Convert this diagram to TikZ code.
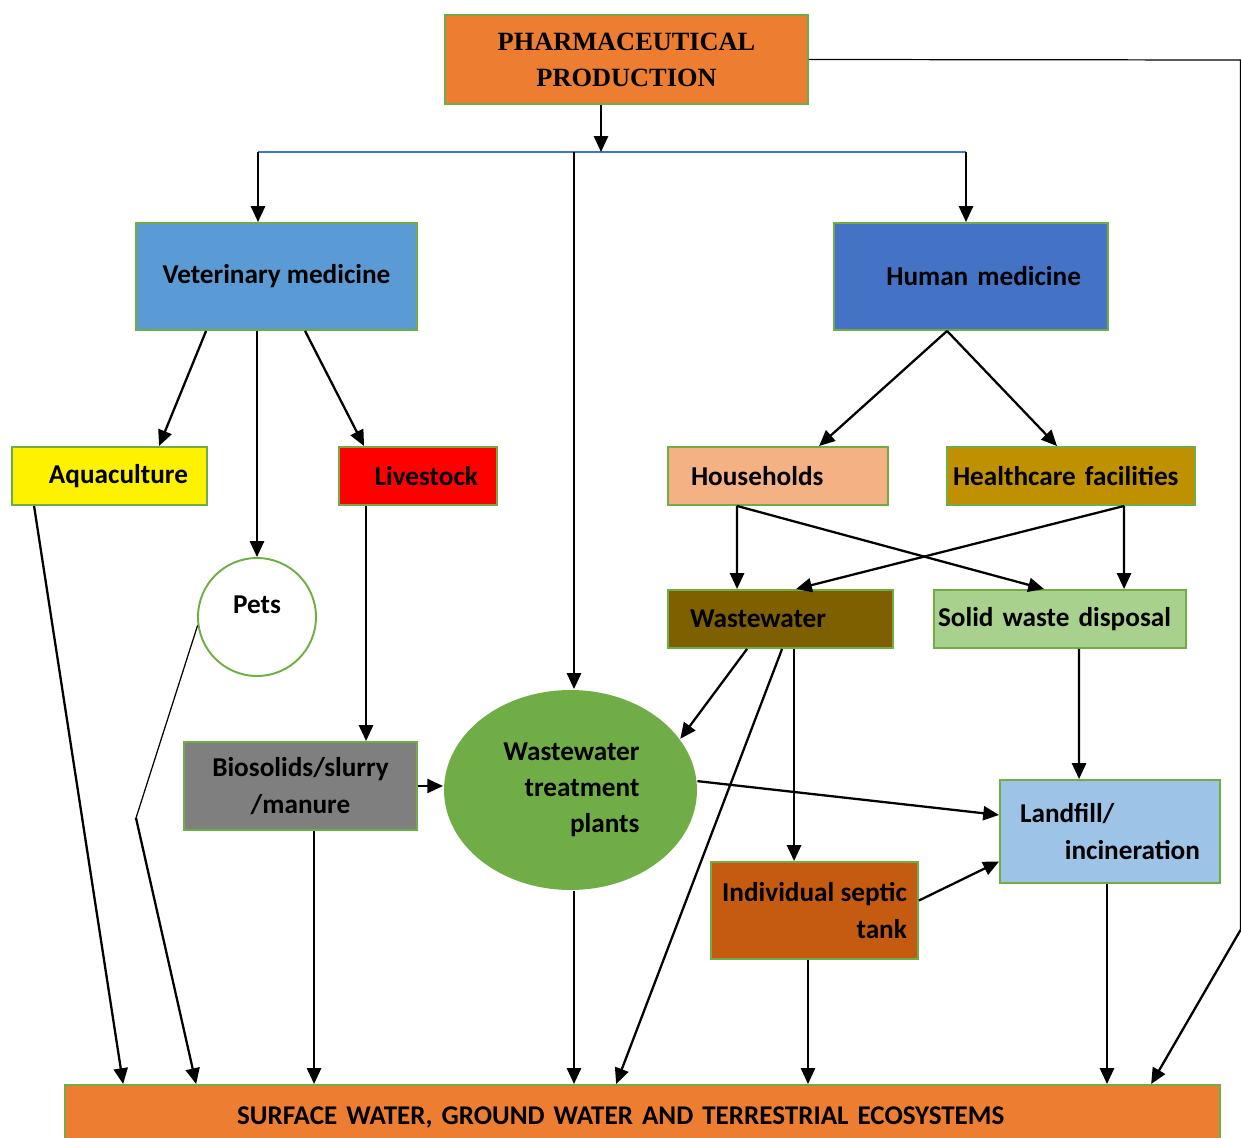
\documentclass[tikz,border=0pt]{standalone}
\usepackage{fontspec}
\setmainfont{Carlito}
\newfontfamily\titlefont{Liberation Serif}
\usepackage{xcolor}
\usetikzlibrary{arrows.meta, positioning, shapes.geometric, calc}

\definecolor{boxgreen}{HTML}{70AD47}
\definecolor{pharmaorange}{HTML}{ED7D31}
\definecolor{vetblue}{HTML}{5B9BD5}
\definecolor{humanblue}{HTML}{4472C4}
\definecolor{househ}{HTML}{F4B183}
\definecolor{healthc}{HTML}{BF9000}
\definecolor{wastebrown}{HTML}{7F6000}
\definecolor{solidgreen}{HTML}{A9D18E}
\definecolor{biogrey}{HTML}{7F7F7F}
\definecolor{landblue}{HTML}{9DC3E6}
\definecolor{septicbrown}{HTML}{C55A11}

\begin{document}
\begin{tikzpicture}[
    x=0.02cm, y=-0.02cm,
    box/.style={draw=boxgreen, line width=1.1pt, inner sep=0pt, font=\fontsize{15.5}{20.6}\selectfont\bfseries},
    link/.style={line width=1.3pt, -{Triangle[length=9pt,width=8pt]}},
    thinlink/.style={line width=0.7pt},
]
\useasboundingbox (0,0) rectangle (1241,1138);

% sources
\node[box, fill=pharmaorange, minimum width=7.26cm, minimum height=1.78cm, align=center,
      font=\titlefont\fontsize{15}{20.5}\selectfont\bfseries] (pharma) at (626.5,59.5) {PHARMACEUTICAL\\PRODUCTION};
\node[box, fill=vetblue, minimum width=5.62cm, minimum height=2.14cm] (vet) at (276.5,276.5) {Veterinary medicine};
\node[box, fill=humanblue, minimum width=5.48cm, minimum height=2.14cm, text width=4.4cm, inner xsep=0.54cm, align=right] (human) at (971,276.5) {Human medicine};

% uses
\node[box, fill=yellow, minimum width=3.9cm, minimum height=1.16cm, text width=3.14cm, inner xsep=0.38cm, align=right] (aqua) at (109.5,476) {Aquaculture};
\node[box, fill=red, minimum width=3.16cm, minimum height=1.16cm, text width=2.4cm, inner xsep=0.38cm, align=right] (livestock) at (418,476) {Livestock};
\node[box, circle, fill=white, minimum size=2.36cm] (pets) at (257,617) {\raisebox{0.48cm}{Pets}};
\node[box, fill=househ, minimum width=4.4cm, minimum height=1.16cm, text width=3.48cm, inner xsep=0.46cm, align=left] (households) at (778,476) {Households};
\node[box, fill=healthc, minimum width=4.96cm, minimum height=1.16cm, text width=4.72cm, inner xsep=0.12cm, align=left] (healthcare) at (1071,476) {Healthcare facilities};

% waste streams
\node[box, fill=wastebrown, minimum width=4.5cm, minimum height=1.16cm, text width=3.62cm, inner xsep=0.44cm, align=left] (wastewater) at (780.5,619) {Wastewater};
\node[box, fill=solidgreen, minimum width=5.04cm, minimum height=1.16cm, text width=4.88cm, inner xsep=0.08cm, align=left] (solid) at (1060,619) {Solid waste disposal};
\node[box, fill=biogrey, minimum width=4.66cm, minimum height=1.76cm, align=center,
      font=\fontsize{15.5}{21.2}\selectfont\bfseries] (bio) at (300.5,786) {Biosolids/slurry\\/manure};
\node[box, ellipse, draw=none, fill=boxgreen, minimum width=5.06cm, minimum height=4cm, text width=2.76cm, align=right] (wwtp) at (570.5,790) {Wastewater\\treatment\\plants};
\node[box, fill=landblue, minimum width=4.4cm, minimum height=2.06cm, text width=3.6cm, inner xsep=0.4cm, align=left] (landfill) at (1110,831.5) {Landfill/\\\hspace*{\fill}incineration};
\node[box, fill=septicbrown, minimum width=4.14cm, minimum height=1.94cm, align=right] (septic) at (814.5,910.5) {Individual septic\\tank};

% receiving environment
\node[box, fill=pharmaorange, minimum width=23.1cm, minimum height=1.28cm, text width=16.22cm, inner xsep=3.44cm, align=left,
      font=\fontsize{15.4}{18}\selectfont\bfseries] (bottom) at (642.5,1117) {SURFACE WATER, GROUND WATER AND TERRESTRIAL ECOSYSTEMS};

% distribution line
\coordinate (split) at (601,152);
\coordinate (vsplit) at (258,152);
\coordinate (wsplit) at (574,152);
\coordinate (hsplit) at (966,152);
\draw[line width=0.7pt, humanblue] (vsplit) -- (hsplit);
\draw[link] (pharma.south -| split) -- (split);
\draw[link] (vsplit) -- (vsplit |- vet.north);
\draw[link] (hsplit) -- (hsplit |- human.north);
\draw[link] (wsplit) -- (wsplit |- wwtp.north);

% veterinary branch
\draw[link] ([shift={(71,0)}]vet.south west) -- ([shift={(148,0)}]aqua.north west);
\draw[link] (vet.south -| pets.north) -- (pets.north);
\draw[link] ([shift={(170,0)}]vet.south west) -- ([shift={(26,0)}]livestock.north west);
\draw[link] ([shift={(28,0)}]livestock.south west) coordinate (ls) -- (ls |- bio.north);
\draw[link] (bio.east) -- (wwtp.west |- bio.east);

% human branch
\draw[link] ([shift={(114,0)}]human.south west) -- ([shift={(152,0)}]households.north west);
\draw[link] ([shift={(114,0)}]human.south west) -- ([shift={(111,0)}]healthcare.north west);
\draw[link] ([shift={(70,0)}]households.south west) -- ([shift={(70,0)}]wastewater.north west);
\draw[link] ([shift={(70,0)}]households.south west) -- ([shift={(111,0)}]solid.north west);
\draw[link] ([shift={(178,0)}]healthcare.south west) -- ([shift={(129,0)}]wastewater.north west);
\draw[link] ([shift={(178,0)}]healthcare.south west) -- ([shift={(191,0)}]solid.north west);

% treatment and disposal
\draw[link] ([shift={(80,0)}]wastewater.south west) -- (wwtp.25);
\draw[link] ([shift={(127,0)}]wastewater.south west) coordinate (ws) -- (ws |- septic.north);
\draw[link] ([shift={(146,0)}]solid.south west) -- ([shift={(80,0)}]landfill.north west);
\draw[link] (wwtp.4) -- ([shift={(0,-16.5)}]landfill.west);
\draw[link] ([shift={(0,-10)}]septic.east) -- ([shift={(0,30)}]landfill.west);

% into the environment
\coordinate (kink) at (136,818);
\coordinate (rtop) at (1240.5,60);
\coordinate (rturn) at (1240.5,930);
\draw[link] ([shift={(23,0)}]aqua.south west) -- ([shift={(59,0)}]bottom.north west);
\draw[thinlink] (pets.188) -- (kink);
\draw[link] (kink) -- ([shift={(132,0)}]bottom.north west);
\draw[link] ([shift={(131,0)}]bio.south west) coordinate (bs) -- (bs |- bottom.north);
\draw[link] ([shift={(3.5,0)}]wwtp.south) coordinate (ts) -- (ts |- bottom.north);
\draw[link] ([shift={(115,0)}]wastewater.south west) -- ([shift={(552,0)}]bottom.north west);
\draw[link] ([shift={(-6.5,0)}]septic.south) coordinate (ss) -- (ss |- bottom.north);
\draw[link] ([shift={(-3,0)}]landfill.south) coordinate (lf) -- (lf |- bottom.north);
\draw[thinlink] (pharma.east) -- (rtop) -- (rturn);
\draw[link] (rturn) -- ([shift={(1087,0)}]bottom.north west);
\end{tikzpicture}
\end{document}
